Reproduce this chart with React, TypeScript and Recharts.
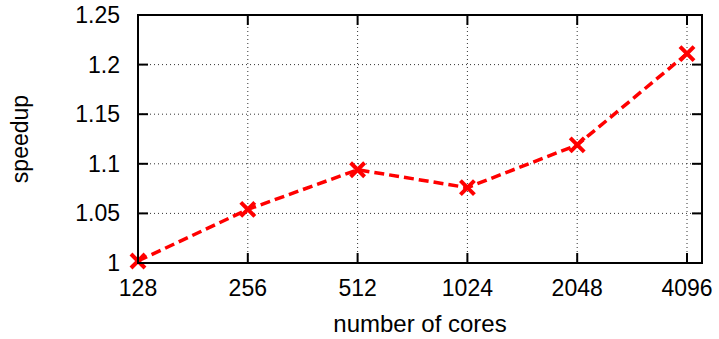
import { LineChart, Line, XAxis, YAxis, CartesianGrid, Label } from "recharts";

const cores = ["128", "256", "512", "1024", "2048", "4096"];
const speedup = [1.002, 1.054, 1.094, 1.076, 1.119, 1.211];
const yTicks = [1, 1.05, 1.1, 1.15, 1.2, 1.25];
const yTickLabels = ["1", "1.05", "1.1", "1.15", "1.2", "1.25"];

const data = cores.map((c, i) => ({ cores: c, speedup: speedup[i] }));

const FONT = "'Liberation Sans', Arial, Helvetica, sans-serif";
const LEFT = 138;
const RIGHT = 702;
const TOP = 15;
const BOTTOM = 263;

// gnuplot-style ticks: drawn inward on both sides of the frame
function YTick(props: any) {
  const { x, y, index } = props;
  return (
    <g>
      {index === 0 && (
        <rect
          x={LEFT}
          y={TOP}
          width={RIGHT - LEFT}
          height={BOTTOM - TOP}
          fill="none"
          stroke="#000"
          strokeWidth={2}
        />
      )}
      <line x1={LEFT} x2={LEFT + 10} y1={y} y2={y} stroke="#000" strokeWidth={2} />
      <line x1={RIGHT - 10} x2={RIGHT} y1={y} y2={y} stroke="#000" strokeWidth={2} />
      <text x={x} y={y} dy="0.35em" textAnchor="end" fontSize={23} fontFamily={FONT} fill="#000">
        {yTickLabels[index]}
      </text>
    </g>
  );
}

function XTick(props: any) {
  const { x, y, payload } = props;
  return (
    <g>
      <line x1={x} x2={x} y1={BOTTOM} y2={BOTTOM - 10} stroke="#000" strokeWidth={2} />
      <line x1={x} x2={x} y1={TOP} y2={TOP + 10} stroke="#000" strokeWidth={2} />
      <text x={x} y={y} dy="0.71em" textAnchor="middle" fontSize={23} fontFamily={FONT} fill="#000">
        {payload.value}
      </text>
    </g>
  );
}

function Cross(props: any) {
  const { cx, cy } = props;
  const s = 7;
  return (
    <g stroke="#ff0000" strokeWidth={4}>
      <line x1={cx - s} y1={cy - s} x2={cx + s} y2={cy + s} />
      <line x1={cx - s} y1={cy + s} x2={cx + s} y2={cy - s} />
    </g>
  );
}

export default function App() {
  return (
    <div style={{ position: "absolute", left: 0, top: 0 }}>
      <LineChart
        width={719}
        height={339}
        data={data}
        margin={{ top: TOP, right: 719 - RIGHT, left: LEFT - 60, bottom: 0 }}
      >
        <CartesianGrid stroke="#333" strokeDasharray="1 3" strokeWidth={1} />
        <XAxis
          dataKey="cores"
          type="category"
          padding={{ left: 0, right: 15 }}
          axisLine={{ stroke: "#000", strokeWidth: 2 }}
          tickLine={false}
          tickSize={0}
          tickMargin={17}
          tick={<XTick />}
          interval={0}
          height={339 - BOTTOM}
        >
          <Label
            value="number of cores"
            position="insideBottom"
            offset={7}
            style={{ fontSize: 24, fontFamily: FONT, fill: "#000" }}
          />
        </XAxis>
        <YAxis
          domain={[1, 1.25]}
          ticks={yTicks}
          width={60}
          axisLine={{ stroke: "#000", strokeWidth: 2 }}
          tickLine={false}
          tickSize={0}
          tickMargin={18}
          tick={<YTick />}
          interval={0}
        >
          <Label
            value="speedup"
            angle={-90}
            position="insideLeft"
            offset={-58}
            style={{ fontSize: 23, fontFamily: FONT, fill: "#000", textAnchor: "middle" }}
          />
        </YAxis>
        <Line
          type="linear"
          dataKey="speedup"
          stroke="#ff0000"
          strokeWidth={3.5}
          strokeDasharray="10 5"
          dot={<Cross />}
          activeDot={false}
          isAnimationActive={false}
        />
      </LineChart>
    </div>
  );
}
